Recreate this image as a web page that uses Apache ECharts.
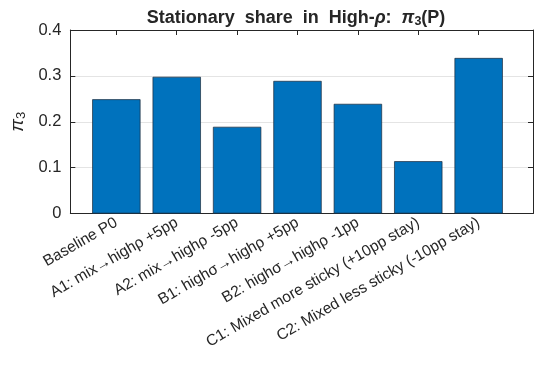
<!DOCTYPE html>
<html>
<head>
<meta charset="utf-8">
<script src="https://cdn.jsdelivr.net/npm/echarts@6/dist/echarts.min.js"></script>
<style>html,body{margin:0;padding:0;background:#fff;}#c{width:539px;height:369px;}</style>
</head>
<body>
<div id="c"></div>
<script>
var categories = ['Baseline P0', 'A1: mix\u2192high\u03c1 +5pp', 'A2: mix\u2192high\u03c1 -5pp', 'B1: high\u03c3\u2192high\u03c1 +5pp', 'B2: high\u03c3\u2192high\u03c1 -1pp', 'C1: Mixed more sticky (+10pp stay)', 'C2: Mixed less sticky (-10pp stay)'];
var values = [0.249, 0.298, 0.189, 0.289, 0.239, 0.114, 0.339];
var yMin = 0, yMax = 0.4, yStep = 0.1;

var FONT = 'Liberation Sans, Arial, Helvetica, sans-serif';
var TXT = '#262626';
var chart = echarts.init(document.getElementById('c'), null, {renderer: 'canvas'});
var gTop = 30, gHeight = 183.5, fLeft = 62, fRight = 6;
var unit = (539 - fLeft - fRight) / 7.8;
var bLeft = fLeft + 0.4 * unit, bRight = fRight + 0.4 * unit;
var lineStyle = {color: '#262626', width: 1};

chart.setOption({
  animation: false,
  backgroundColor: '#fff',
  title: {
    text: '{b|Stationary  share  in  High-}{bi|\u03c1}{b|:  }{bi|\u03c0}{s|3}{b|(P)}',
    left: 291, top: 3, textAlign: 'center',
    textStyle: {
      rich: {
        b: {fontFamily: FONT, fontWeight: 'bold', fontSize: 18, color: TXT},
        bi: {fontFamily: FONT, fontWeight: 'bold', fontStyle: 'italic', fontSize: 18, color: TXT},
        s: {fontFamily: FONT, fontWeight: 'bold', fontSize: 12.5, color: TXT, verticalAlign: 'bottom', padding: [7, 0, 0, 0]}
      }
    }
  },
  grid: [
    {left: fLeft, right: fRight, top: gTop, height: gHeight},
    {left: bLeft, right: bRight, top: gTop, height: gHeight}
  ],
  xAxis: [
    {gridIndex: 0, type: 'value', min: 0, max: 1, position: 'bottom',
     axisLine: {show: true, onZero: false, lineStyle: lineStyle}, axisTick: {show: false}, axisLabel: {show: false}, splitLine: {show: false}},
    {gridIndex: 0, type: 'value', min: 0, max: 1, position: 'top',
     axisLine: {show: true, onZero: false, lineStyle: lineStyle}, axisTick: {show: false}, axisLabel: {show: false}, splitLine: {show: false}},
    {gridIndex: 1, type: 'category', data: categories, position: 'bottom',
     axisLine: {show: false, onZero: false}, axisTick: {show: true, inside: true, interval: 0, alignWithLabel: true, length: 5, lineStyle: lineStyle},
     axisLabel: {interval: 0, rotate: 30, margin: 8, fontFamily: FONT, fontSize: 15.5, color: TXT}},
    {gridIndex: 1, type: 'category', data: categories, position: 'top',
     axisLine: {show: false, onZero: false}, axisTick: {show: true, inside: true, interval: 0, alignWithLabel: true, length: 5, lineStyle: lineStyle},
     axisLabel: {show: false}}
  ],
  yAxis: [
    {gridIndex: 0, type: 'value', min: yMin, max: yMax, interval: yStep, position: 'left',
     name: '{i|\u03c0}{s|3}', nameLocation: 'middle', nameGap: 37, nameRotate: 90,
     nameTextStyle: {rich: {
       i: {fontFamily: FONT, fontStyle: 'italic', fontSize: 19, color: TXT},
       s: {fontFamily: FONT, fontSize: 13, color: TXT, verticalAlign: 'bottom', padding: [7, 0, 0, 0]}
     }},
     axisLine: {show: true, onZero: false, lineStyle: lineStyle},
     axisTick: {show: true, inside: true, length: 5, lineStyle: lineStyle},
     axisLabel: {fontFamily: FONT, fontSize: 16.5, color: TXT, margin: 9, formatter: function (v) { return v === 0 ? '0' : v.toFixed(1); }},
     splitLine: {show: true, lineStyle: {color: '#e4e4e4', width: 1}}},
    {gridIndex: 0, type: 'value', min: yMin, max: yMax, interval: yStep, position: 'right',
     axisLine: {show: true, onZero: false, lineStyle: lineStyle},
     axisTick: {show: true, inside: true, length: 5, lineStyle: lineStyle},
     axisLabel: {show: false}, splitLine: {show: false}},
    {gridIndex: 1, type: 'value', min: yMin, max: yMax, interval: yStep, show: false}
  ],
  series: [{
    type: 'bar', xAxisIndex: 2, yAxisIndex: 2, data: values, barWidth: '80%',
    itemStyle: {color: '#0072BD', borderColor: '#1c2a3a', borderWidth: 0.7}
  }]
});
</script>
</body>
</html>
